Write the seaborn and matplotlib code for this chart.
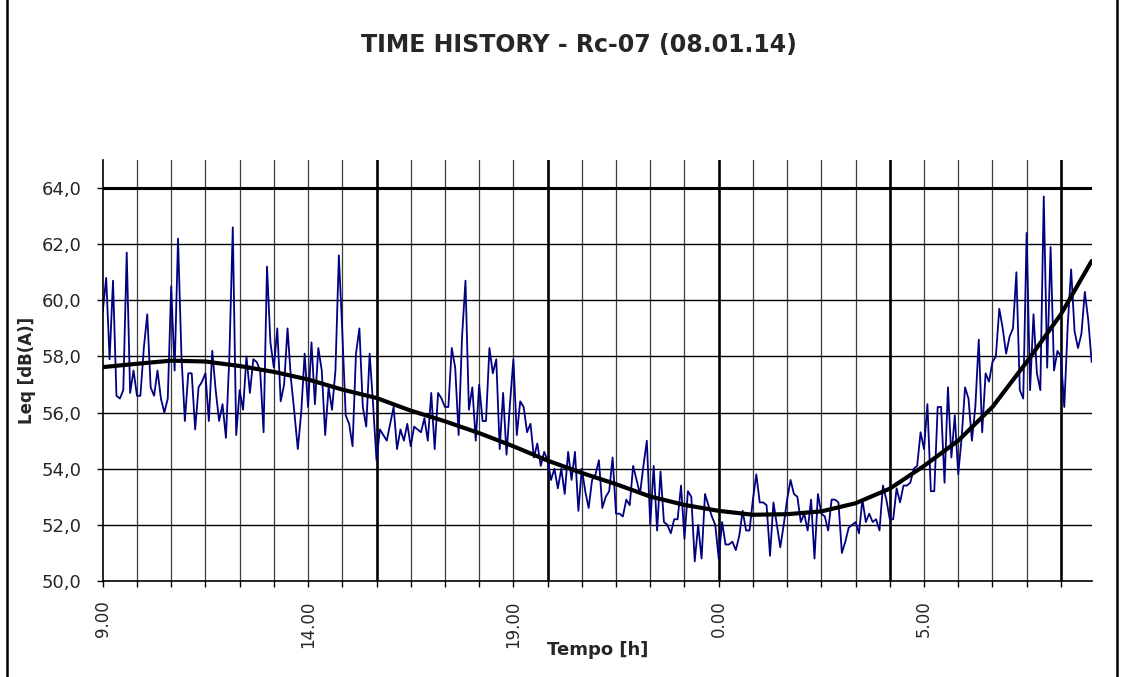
import numpy as np
import pandas as pd
import seaborn as sns
import matplotlib.pyplot as plt
from matplotlib.patches import Rectangle

# Leq ogni 5 minuti, dalle 9.00 (08.01.14) fino alle 9.05 del giorno dopo
leq = [
    59.6, 60.8, 57.9, 60.7, 56.6, 56.5, 56.8, 61.7, 56.7, 57.5,
    56.6, 56.6, 58.3, 59.5, 56.9, 56.6, 57.5, 56.5, 56.0, 56.5,
    60.5, 57.5, 62.2, 58.0, 55.7, 57.4, 57.4, 55.4, 56.9, 57.1,
    57.4, 55.7, 58.2, 56.8, 55.7, 56.3, 55.1, 58.0, 62.6, 55.2,
    56.8, 56.1, 58.0, 56.7, 57.9, 57.8, 57.5, 55.3, 61.2, 58.5,
    57.6, 59.0, 56.4, 57.0, 59.0, 57.2, 56.0, 54.7, 56.0, 58.1,
    56.2, 58.5, 56.3, 58.3, 57.5, 55.2, 56.9, 56.1, 57.5, 61.6,
    58.9, 55.9, 55.6, 54.8, 58.1, 59.0, 56.2, 55.5, 58.1, 56.3,
    54.3, 55.4, 55.2, 55.0, 55.6, 56.2, 54.7, 55.4, 55.0, 55.6,
    54.8, 55.5, 55.4, 55.3, 55.8, 55.0, 56.7, 54.7, 56.7, 56.5,
    56.2, 56.2, 58.3, 57.6, 55.2, 58.7, 60.7, 56.1, 56.9, 55.0,
    57.0, 55.7, 55.7, 58.3, 57.4, 57.9, 54.7, 56.7, 54.5, 56.3,
    57.9, 55.2, 56.4, 56.2, 55.3, 55.6, 54.4, 54.9, 54.1, 54.6,
    54.3, 53.6, 54.0, 53.3, 54.0, 53.1, 54.6, 53.6, 54.6, 52.5,
    54.0, 53.2, 52.6, 53.6, 53.8, 54.3, 52.6, 53.0, 53.2, 54.4,
    52.4, 52.4, 52.3, 52.9, 52.7, 54.1, 53.6, 53.1, 54.1, 55.0,
    52.0, 54.1, 51.8, 53.9, 52.1, 52.0, 51.7, 52.2, 52.2, 53.4,
    51.5, 53.2, 53.0, 50.7, 52.0, 50.8, 53.1, 52.7, 52.3, 52.0,
    50.8, 52.1, 51.3, 51.3, 51.4, 51.1, 51.6, 52.5, 51.8, 51.8,
    52.9, 53.8, 52.8, 52.8, 52.7, 50.9, 52.8, 52.0, 51.2, 52.0,
    52.9, 53.6, 53.1, 53.0, 52.1, 52.4, 51.8, 52.9, 50.8, 53.1,
    52.4, 52.3, 51.8, 52.9, 52.9, 52.8, 51.0, 51.4, 51.9, 52.0,
    52.1, 51.7, 52.9, 52.1, 52.4, 52.1, 52.2, 51.8, 53.4, 52.9,
    52.2, 52.2, 53.3, 52.8, 53.4, 53.4, 53.5, 54.0, 54.1, 55.3,
    54.7, 56.3, 53.2, 53.2, 56.2, 56.2, 53.5, 56.9, 54.4, 55.9,
    53.8, 55.1, 56.9, 56.5, 55.0, 56.2, 58.6, 55.3, 57.4, 57.1,
    57.8, 58.0, 59.7, 59.0, 58.1, 58.7, 59.0, 61.0, 56.8, 56.5,
    62.4, 56.8, 59.5, 57.4, 56.8, 63.7, 57.6, 61.9, 57.5, 58.2,
    58.0, 56.2, 59.1, 61.1, 58.9, 58.3, 58.8, 60.3, 59.3, 57.8,
]

# linea di tendenza (polinomiale Excel) letta ogni 10 campioni
trend_pos = [0, 10, 20, 30, 40, 50, 60, 70, 80, 90,
             100, 110, 120, 130, 140, 150, 160, 170, 180, 190,
             200, 210, 220, 230, 240, 250, 260, 270, 280, 289]
trend = [57.62, 57.74, 57.85, 57.82, 57.66, 57.45, 57.18, 56.82, 56.52, 56.07,
         55.69, 55.27, 54.80, 54.29, 53.85, 53.45, 53.01, 52.71, 52.50, 52.36,
         52.38, 52.48, 52.77, 53.29, 54.10, 55.00, 56.20, 57.80, 59.50, 61.40]

x_label_pos = [0, 60, 120, 180, 240]
x_labels = ["9.00", "14.00", "19.00", "0.00", "5.00"]
y_ticks = [50, 52, 54, 56, 58, 60, 62, 64]
y_labels = ["50,0", "52,0", "54,0", "56,0", "58,0", "60,0", "62,0", "64,0"]
thick_lines = [80, 130, 180, 230, 280]

df = pd.DataFrame({"campione": np.arange(len(leq)), "Leq": leq})
df_trend = pd.DataFrame({"campione": trend_pos, "Leq": trend})

sns.set_style("white")
plt.rcParams["font.family"] = ["DejaVu Sans"]

fig = plt.figure(figsize=(11.23, 6.77), dpi=100)
ax = fig.add_axes([0.0915, 0.1418, 0.8806, 0.6219])

# griglia stile Excel
for xv in range(10, len(leq), 10):
    lw = 1.9 if xv in thick_lines else 0.9
    col = "black" if xv in thick_lines else "#3c3c3c"
    ax.axvline(xv, color=col, lw=lw, zorder=0)
for yv in y_ticks[1:]:
    ax.axhline(yv, color="black", lw=2.2 if yv == 64 else 1.0, zorder=0)

sns.lineplot(data=df, x="campione", y="Leq", color="#000080", lw=1.3, ax=ax)
sns.lineplot(data=df_trend, x="campione", y="Leq", color="black", lw=3.0,
             ax=ax, solid_capstyle="round", solid_joinstyle="round")

ax.set_xlim(0, len(leq) - 1)
ax.set_ylim(50, 65)
ax.set_xticks(x_label_pos, x_labels, rotation=90, fontsize=12)
ax.set_xticks(range(0, len(leq), 10), minor=True)
ax.set_yticks(y_ticks, y_labels, fontsize=13)
ax.tick_params(axis="x", which="both", direction="out", length=4, width=1,
               color="black", bottom=True)
ax.tick_params(axis="x", which="major", pad=10)
ax.tick_params(axis="y", direction="out", length=4.3, width=1, color="black",
               left=True, pad=11)

for s in ["top", "right"]:
    ax.spines[s].set_visible(False)
for s in ["left", "bottom"]:
    ax.spines[s].set_color("black")
    ax.spines[s].set_linewidth(1.2)

ax.set_ylabel("Leq [dB(A)]", fontsize=12, fontweight="bold")
ax.yaxis.set_label_coords(-0.068, 0.5)
ax.set_xlabel("Tempo [h]", fontsize=13, fontweight="bold")
ax.xaxis.set_label_coords(0.5, -0.1425)

fig.text(0.5156, 0.9335, "TIME HISTORY - Rc-07 (08.01.14)", ha="center",
         va="center", fontsize=17, fontweight="bold")

fig.add_artist(Rectangle((7 / 1123, -0.02), 1110 / 1123, 1.04,
                         transform=fig.transFigure, fill=False, lw=1.8,
                         ec="black"))

fig.savefig("out.png", dpi=100)
